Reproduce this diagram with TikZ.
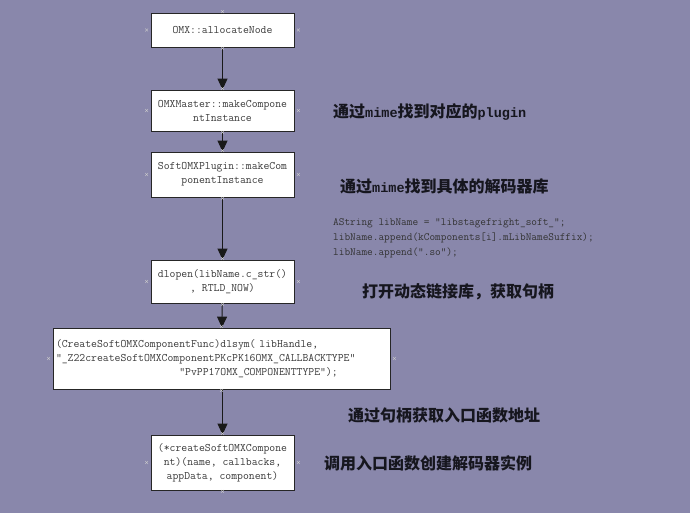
\documentclass[tikz,border=0pt]{standalone}
\usepackage{fontspec}
\usetikzlibrary{arrows.meta,shapes.misc}
\newfontfamily\cjk{Noto Sans CJK SC}
\newfontfamily\lmono{Liberation Mono}
\newcommand\lm{\lmono\bfseries\fontsize{13.5}{16}\selectfont}
\definecolor{bg}{RGB}{137,135,171}
\definecolor{boxtext}{RGB}{58,58,58}
\definecolor{labtext}{RGB}{22,22,30}
\begin{document}
\begin{tikzpicture}[x=1pt,y=-1pt,
  box/.style={draw=black!85, line width=0.8pt, fill=white, text=boxtext,
    font=\ttfamily\fontsize{11.4}{14}\selectfont, align=center,
    inner sep=0pt, minimum width=143pt},
  flow/.style={draw=black!90, line width=0.9pt, -{Triangle[width=10pt,length=11pt]}},
  lab/.style={anchor=west, inner sep=0pt, text=labtext,
    font=\cjk\bfseries\fontsize{16}{19}\selectfont},
  code/.style={anchor=west, inner sep=0pt, text=black!80, align=left,
    font=\ttfamily\fontsize{11}{15}\selectfont},
  cpx/.style={cross out, draw=white!60!gray, line width=0.4pt, minimum size=2.5pt, inner sep=0pt}
]
\fill[bg] (0,0) rectangle (690,513);
\useasboundingbox (0,0) rectangle (690,513);

\node[box, minimum height=34pt] (b1) at (222.5,30) {OMX::allocateNode};
\node[box, minimum height=41pt] (b2) at (222.5,110.5) {OMXMaster::makeCompone\\ntInstance};
\node[box, minimum height=45pt] (b3) at (222.5,174.5) {SoftOMXPlugin::makeCom\\ponentInstance};
\node[box, minimum height=43pt] (b4) at (222.5,281.5) {dlopen(libName.c\_str()\\, RTLD\_NOW)};
\node[box, align=left, text width=331pt, inner xsep=3pt, minimum height=61pt] (b5) at (221.5,358.5)
  {(CreateSoftOMXComponentFunc)dlsym( libHandle,\\
   "\_Z22createSoftOMXComponentPKcPK16OMX\_CALLBACKTYPE"\\
   \phantom{xxxxxxxxxxxxxxxxxxxxx}"PvPP17OMX\_COMPONENTTYPE");};
\node[box, minimum height=55pt] (b6) at (222.5,462.5) {(*createSoftOMXCompone\\nt)(name, callbacks,\\appData, component)};

\draw[flow] (b1) -- (b2);
\draw[flow] (b2) -- (b3);
\draw[flow] (b3) -- (b4);
\draw[flow] (b4) -- (b5);
\draw[flow] (b5.south -| b6) -- (b6);

\foreach \b in {b1,b2,b3,b4,b5,b6}{
  \node[cpx] at ([yshift=1pt]\b.north) {};
  \node[cpx] at ([yshift=-1pt]\b.south) {};
  \node[cpx] at ([xshift=-4pt]\b.west) {};
  \node[cpx] at ([xshift=4pt]\b.east) {};
}

\node[lab] (l1) at (333,112) {通过{\lm mime}找到对应的{\lm plugin}};
\node[lab] (l2) at (340,186) {通过{\lm mime}找到具体的解码器库};
\node[code] (c1) at (333,238) {AString libName = "libstagefright\_soft\_";\\libName.append(kComponents[i].mLibNameSuffix);\\libName.append(".so");};
\node[lab] (l3) at (362,292) {打开动态链接库，获取句柄};
\node[lab] (l4) at (348,415) {通过句柄获取入口函数地址};
\node[lab] (l5) at (324,463) {调用入口函数创建解码器实例};
\end{tikzpicture}
\end{document}
